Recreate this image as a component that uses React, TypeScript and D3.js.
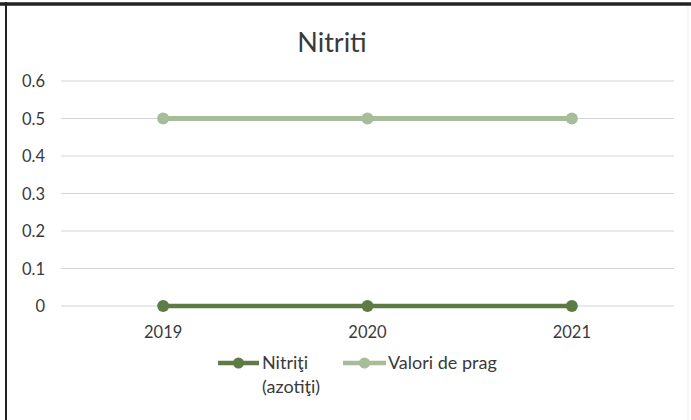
import React from "react";
import * as d3 from "d3";

const categories = ["2019", "2020", "2021"];
const nitriti = [0, 0, 0];
const valoriPrag = [0.5, 0.5, 0.5];
const yTicks = [0, 0.1, 0.2, 0.3, 0.4, 0.5, 0.6];
const yTickLabels = ["0", "0.1", "0.2", "0.3", "0.4", "0.5", "0.6"];
const title = "Nitriti";
const legendLabels = [["Nitriţi", "(azotiţi)"], ["Valori de prag"]];

const W = 691;
const H = 420;
const FONT = "Lato, 'Open Sans', sans-serif";
const DARK = "#5f7b45";
const LIGHT = "#a7bc99";
const TEXT = "#3a3a3a";

export default function App() {
  const x = d3.scaleBand<string>().domain(categories).range([61, 674]);
  const y = d3.scaleLinear().domain([0, 0.6]).range([306, 81]);
  const cx = (c: string) => (x(c) ?? 0) + x.bandwidth() / 2;
  const line = d3
    .line<number>()
    .x((_, i) => cx(categories[i]))
    .y((d) => y(d));

  const series = [
    { values: valoriPrag, color: LIGHT, width: 5 },
    { values: nitriti, color: DARK, width: 4.5 },
  ];

  const legendY = 363;

  return (
    <svg
      width={W}
      height={H}
      style={{ position: "absolute", left: 0, top: 0, background: "#fff" }}
      fontFamily={FONT}
    >
      <rect x={0} y={0} width={W} height={H} fill="#fff" />
      <line x1={0} x2={W} y1={4} y2={4} stroke="#222" strokeWidth={3.5} />
      <line x1={6} x2={6} y1={2} y2={H} stroke="#222" strokeWidth={2} />
      <line x1={688} x2={688} y1={6} y2={H} stroke="#ececec" strokeWidth={1} />
      <text x={332} y={52} textAnchor="middle" fontSize={27} fill={TEXT}>
        {title}
      </text>
      {yTicks.map((t, i) => (
        <g key={i}>
          <line x1={61} x2={674} y1={y(t)} y2={y(t)} stroke="#d4d4dc" strokeWidth={1} />
          <text x={45} y={y(t) + 6} textAnchor="end" fontSize={16.5} fill={TEXT}>
            {yTickLabels[i]}
          </text>
        </g>
      ))}
      {categories.map((c) => (
        <text key={c} x={cx(c)} y={338} textAnchor="middle" fontSize={16.5} fill={TEXT}>
          {c}
        </text>
      ))}
      {series.map((s, si) => (
        <g key={si}>
          <path d={line(s.values) ?? ""} fill="none" stroke={s.color} strokeWidth={s.width} />
          {s.values.map((v, i) => (
            <circle key={i} cx={cx(categories[i])} cy={y(v)} r={6} fill={s.color} />
          ))}
        </g>
      ))}
      {/* legend */}
      <g>
        <line x1={218} x2={259} y1={legendY} y2={legendY} stroke={DARK} strokeWidth={4.5} />
        <circle cx={238.5} cy={legendY} r={5.5} fill={DARK} />
        <text x={262} y={legendY + 6} fontSize={18} fill={TEXT}>
          {legendLabels[0][0]}
        </text>
        <text x={262} y={legendY + 30} fontSize={18} fill={TEXT}>
          {legendLabels[0][1]}
        </text>
        <line x1={343} x2={386} y1={legendY} y2={legendY} stroke={LIGHT} strokeWidth={4.5} />
        <circle cx={364.5} cy={legendY} r={5.5} fill={LIGHT} />
        <text x={388} y={legendY + 6} fontSize={18} fill={TEXT}>
          {legendLabels[1][0]}
        </text>
      </g>
    </svg>
  );
}
